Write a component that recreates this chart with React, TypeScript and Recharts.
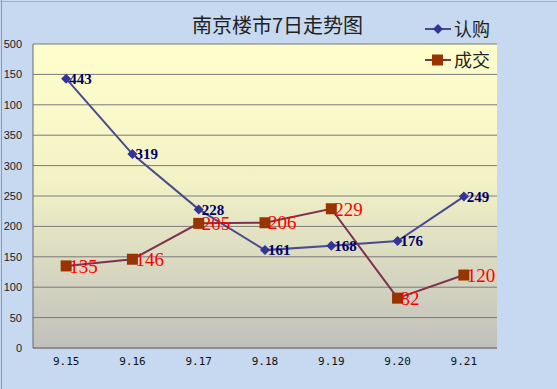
import React from "react";
import { LineChart, Line, XAxis, YAxis, CartesianGrid, LabelList } from "recharts";

const categories = ["9.15", "9.16", "9.17", "9.18", "9.19", "9.20", "9.21"];
const subscribeValues = [443, 319, 228, 161, 168, 176, 249];
const dealValues = [135, 146, 205, 206, 229, 82, 120];
const yTicks = [0, 50, 100, 150, 200, 250, 300, 350, 400, 450, 500];
const yTickLabels = ["0", "50", "100", "150", "200", "250", "300", "350", "100", "150", "500"];

const data = categories.map((c, i) => ({ name: c, sub: subscribeValues[i], deal: dealValues[i] }));

const Diamond = (props: any) => {
  const { cx, cy } = props;
  if (cx == null || cy == null) return null;
  return <path d={`M${cx},${cy - 5}L${cx + 5},${cy}L${cx},${cy + 5}L${cx - 5},${cy}Z`} fill="#333399" />;
};
const Square = (props: any) => {
  const { cx, cy } = props;
  if (cx == null || cy == null) return null;
  return <rect x={cx - 5.5} y={cy - 5.5} width={11} height={11} fill="#993300" />;
};

export default function App() {
  return (
    <div style={{ position: "absolute", left: 0, top: 0, width: 557, height: 389, background: "#C6D9F1", overflow: "hidden" }}>
      <div style={{ position: "absolute", left: 1, top: 0, width: 1, height: 389, background: "#8E9AAA" }} />
      <div style={{ position: "absolute", left: 0, top: 1, width: 557, height: 1, background: "#A8B4C4" }} />
      <LineChart width={557} height={389} data={data} margin={{ top: 44, right: 60, left: 0, bottom: 11 }}>
        <defs>
          <linearGradient id="plotBg" x1="0" y1="0" x2="0" y2="1">
            <stop offset="0%" stopColor="#FFFFCC" />
            <stop offset="45%" stopColor="#F2F2C6" />
            <stop offset="100%" stopColor="#C0C0BC" />
          </linearGradient>
        </defs>
        <CartesianGrid vertical={false} stroke="#7A7A7A" fill="url(#plotBg)" fillOpacity={1} />
        <XAxis
          dataKey="name"
          scale="band"
          height={30}
          tickLine={false}
          tickSize={0}
          tickMargin={9}
          axisLine={{ stroke: "#7A7A7A" }}
          tick={{ fill: "#111", fontSize: 11, fontFamily: "'DejaVu Sans Mono'" }}
        />
        <YAxis
          width={33}
          domain={[0, 500]}
          ticks={yTicks}
          interval={0}
          tickLine={false}
          tickSize={0}
          tickMargin={11}
          axisLine={{ stroke: "#6A6A6A" }}
          tickFormatter={(v: number) => yTickLabels[yTicks.indexOf(v)]}
          tick={{ fill: "#222", fontSize: 11, fontFamily: "'Liberation Sans'" }}
        />
        <Line dataKey="sub" stroke="#4A4A8E" strokeWidth={2} dot={<Diamond />} activeDot={false} isAnimationActive={false}>
          <LabelList dataKey="sub" position="right" offset={3} fill="#000066" fontSize={15} fontWeight="bold" fontFamily="'Liberation Serif'" />
        </Line>
        <Line dataKey="deal" stroke="#7F3050" strokeWidth={2} dot={<Square />} activeDot={false} isAnimationActive={false}>
          <LabelList dataKey="deal" position="right" offset={3} fill="#FF0000" fontSize={19} fontFamily="'Liberation Serif'" />
        </Line>
      </LineChart>
      <div style={{ position: "absolute", left: 0, top: 12, width: 557, textAlign: "center", fontFamily: "'Noto Sans CJK SC'", fontSize: 20, lineHeight: "26px", color: "#222", paddingRight: 2, boxSizing: "border-box" }}>
        南京楼市7日走势图
      </div>
      <div style={{ position: "absolute", left: 425, top: 13, fontFamily: "'Noto Sans CJK SC'", fontSize: 18, color: "#222", lineHeight: "31px" }}>
        <div style={{ display: "flex", alignItems: "center" }}>
          <svg width={26} height={12} style={{ marginRight: 3 }}>
            <line x1={0} y1={6} x2={26} y2={6} stroke="#4A4A8E" strokeWidth={2} />
            <path d="M13,1L18,6L13,11L8,6Z" fill="#333399" />
          </svg>
          <span>认购</span>
        </div>
        <div style={{ display: "flex", alignItems: "center" }}>
          <svg width={26} height={12} style={{ marginRight: 3 }}>
            <line x1={0} y1={6} x2={26} y2={6} stroke="#7F3050" strokeWidth={2} />
            <rect x={7} y={0.5} width={11} height={11} fill="#993300" />
          </svg>
          <span>成交</span>
        </div>
      </div>
    </div>
  );
}
